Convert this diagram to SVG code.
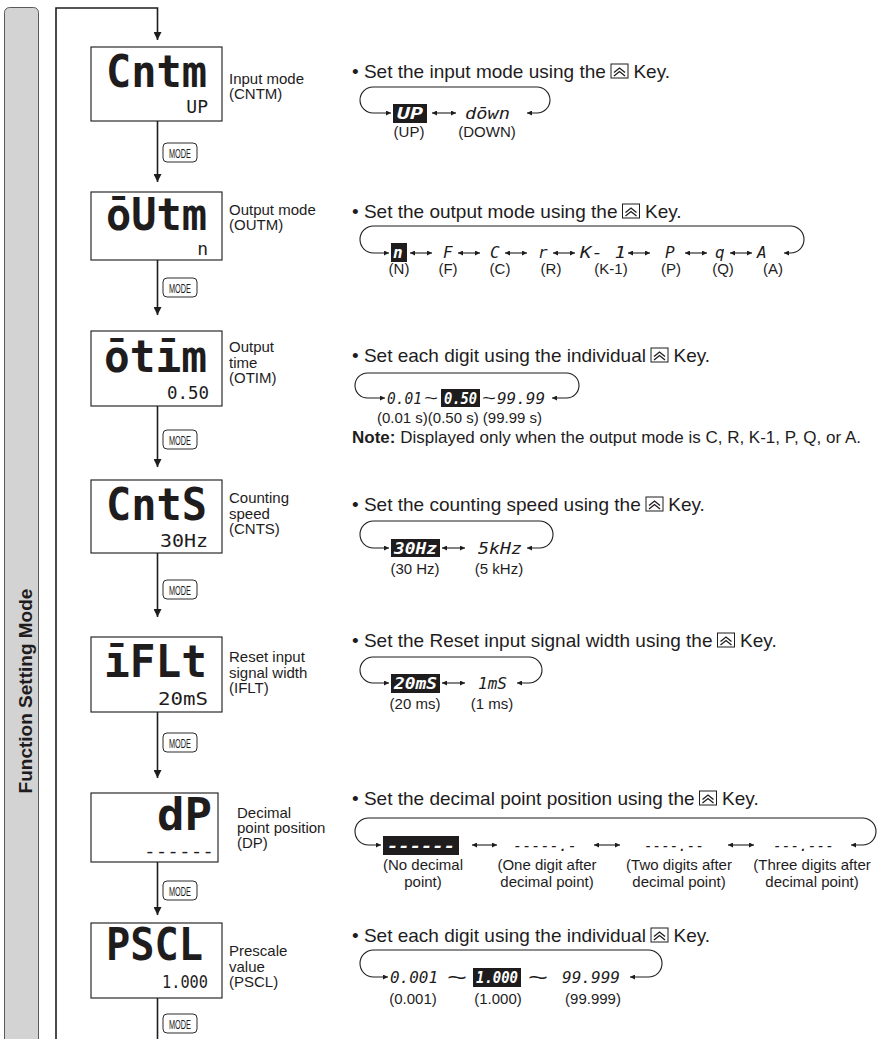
<svg xmlns="http://www.w3.org/2000/svg" xmlns:xlink="http://www.w3.org/1999/xlink" width="887" height="1039" viewBox="0 0 887 1039">
<style>
text{fill:#1e1c1d}
.hdr{font-family:"Liberation Sans",Arial,sans-serif;font-size:19px}
.lbl{font-family:"Liberation Sans",Arial,sans-serif;font-size:15px}
.sub{font-family:"Liberation Sans",Arial,sans-serif;font-size:15px;text-anchor:middle}
.note{font-family:"Liberation Sans",Arial,sans-serif;font-size:17px}
.title{font-family:"Liberation Sans",Arial,sans-serif;font-size:19px;font-weight:bold;text-anchor:middle}
.big{font-family:"DejaVu Sans Mono",monospace;font-size:44px;font-weight:bold}
.small{font-family:"DejaVu Sans Mono",monospace;font-size:18px;text-anchor:end}
.seg{font-family:"DejaVu Sans Mono",monospace;font-size:16px;font-style:italic}
.inv{fill:#fff}
.tl{font-family:"Liberation Sans",Arial,sans-serif}
.mode{font-family:"Liberation Sans",Arial,sans-serif;font-size:13px;text-anchor:middle}
.box{fill:#fff;stroke:#2a2a2a;stroke-width:1.2}
.btn{fill:#fff;stroke:#2a2a2a;stroke-width:1}
.hl{fill:#1e1c1d}
.ln{fill:none;stroke:#1e1c1d;stroke-width:1.6}
.lp{fill:none;stroke:#1e1c1d;stroke-width:1.1}
</style>
<defs>
<marker id="ah" viewBox="0 0 10 10" refX="10" refY="5" markerWidth="7" markerHeight="5" markerUnits="userSpaceOnUse" orient="auto-start-reverse"><path d="M0,0 L10,5 L0,10 z" fill="#1e1c1d"/></marker>
<marker id="av" viewBox="0 0 10 10" refX="10" refY="5" markerWidth="9" markerHeight="8" markerUnits="userSpaceOnUse" orient="auto"><path d="M0,0 L10,5 L0,10 z" fill="#1e1c1d"/></marker>
<g id="key"><rect x="0" y="0" width="17" height="14" fill="#fff" stroke="#1e1c1d" stroke-width="1"/><polyline points="3,8.5 8.5,4 14,8.5" fill="none" stroke="#1e1c1d" stroke-width="1.3"/><polyline points="3,12 8.5,7.5 14,12" fill="none" stroke="#1e1c1d" stroke-width="1.3"/></g>
<g id="modebtn"><rect x="0" y="0" width="34" height="19" rx="4" class="btn"/><text x="17" y="14.5" class="mode" textLength="22" lengthAdjust="spacingAndGlyphs">MODE</text></g>
</defs>
<rect width="887" height="1039" fill="#fff"/>

<g id="side-bar">
<rect x="4.5" y="7.5" width="34" height="1045" rx="5" fill="#d3d3d3" stroke="#5a5a5a" stroke-width="1"/>
<text class="title" transform="translate(32,691) rotate(-90)">Function Setting Mode</text>
</g>

<g id="connectors">
<path class="ln" d="M56,1039 V8 H157.5 V40" marker-end="url(#av)"/>
<path class="ln" d="M157.5,121 V182" marker-end="url(#av)"/>
<path class="ln" d="M157.5,260 V315" marker-end="url(#av)"/>
<path class="ln" d="M157.5,406 V467" marker-end="url(#av)"/>
<path class="ln" d="M157.5,553 V617" marker-end="url(#av)"/>
<path class="ln" d="M157.5,712 V778" marker-end="url(#av)"/>
<path class="ln" d="M157.5,862 V915" marker-end="url(#av)"/>
<path class="ln" d="M157.5,998 V1039"/>
<use xlink:href="#modebtn" x="163" y="143"/>
<use xlink:href="#modebtn" x="163" y="278"/>
<use xlink:href="#modebtn" x="163" y="430"/>
<use xlink:href="#modebtn" x="163" y="580"/>
<use xlink:href="#modebtn" x="163" y="733"/>
<use xlink:href="#modebtn" x="163" y="881"/>
<use xlink:href="#modebtn" x="163" y="1014"/>
</g>

<g id="node-cntm">
<rect class="box" x="91" y="47" width="131" height="74"/>
<text class="big" x="106" y="87" textLength="101" lengthAdjust="spacingAndGlyphs">Cntm</text>
<text class="small" x="208" y="113">UP</text>
<text class="lbl" x="229" y="84">Input mode</text>
<text class="lbl" x="229" y="99">(CNTM)</text>
</g>
<g id="node-outm">
<rect class="box" x="91" y="192" width="131" height="68"/>
<text class="big" x="106" y="230" textLength="101" lengthAdjust="spacingAndGlyphs">ōUtm</text>
<text class="small" x="208" y="255">n</text>
<text class="lbl" x="229" y="215">Output mode</text>
<text class="lbl" x="229" y="230">(OUTM)</text>
</g>
<g id="node-otim">
<rect class="box" x="91" y="331" width="131" height="75"/>
<text class="big" x="104" y="372" textLength="103" lengthAdjust="spacingAndGlyphs">ōtīm</text>
<text class="small" x="209" y="399" textLength="42" lengthAdjust="spacingAndGlyphs">0.50</text>
<text class="lbl" x="229" y="352">Output</text>
<text class="lbl" x="229" y="367.5">time</text>
<text class="lbl" x="229" y="383">(OTIM)</text>
</g>
<g id="node-cnts">
<rect class="box" x="91" y="480" width="131" height="73"/>
<text class="big" x="106" y="520" textLength="101" lengthAdjust="spacingAndGlyphs">CntS</text>
<text class="small" x="208" y="547" textLength="48" lengthAdjust="spacingAndGlyphs">30Hz</text>
<text class="lbl" x="229" y="503">Counting</text>
<text class="lbl" x="229" y="518.5">speed</text>
<text class="lbl" x="229" y="534">(CNTS)</text>
</g>
<g id="node-iflt">
<rect class="box" x="91" y="637" width="131" height="75"/>
<text class="big" x="104" y="677" textLength="103" lengthAdjust="spacingAndGlyphs">īFLt</text>
<text class="small" x="208" y="705" textLength="50" lengthAdjust="spacingAndGlyphs">20mS</text>
<text class="lbl" x="229" y="662">Reset input</text>
<text class="lbl" x="229" y="677.5">signal width</text>
<text class="lbl" x="229" y="693">(IFLT)</text>
</g>
<g id="node-dp">
<rect class="box" x="91" y="793" width="127" height="69"/>
<text class="big" x="157" y="830" textLength="55" lengthAdjust="spacingAndGlyphs">dP</text>
<text class="small" x="214" y="857" textLength="70" lengthAdjust="spacingAndGlyphs">------</text>
<text class="lbl" x="237" y="818">Decimal</text>
<text class="lbl" x="237" y="833">point position</text>
<text class="lbl" x="237" y="848">(DP)</text>
</g>
<g id="node-pscl">
<rect class="box" x="91" y="923" width="131" height="75"/>
<text class="big" x="106" y="960" textLength="97" lengthAdjust="spacingAndGlyphs">PSCL</text>
<text class="small" x="208" y="988" textLength="46" lengthAdjust="spacingAndGlyphs">1.000</text>
<text class="lbl" x="229" y="956">Prescale</text>
<text class="lbl" x="229" y="971.5">value</text>
<text class="lbl" x="229" y="987">(PSCL)</text>
</g>

<g id="set-cntm">
<text class="hdr" x="352" y="78">• Set the input mode using the<tspan dx="22.3"> Key.</tspan></text>
<use xlink:href="#key" x="611" y="64"/>
<path class="lp" d="M391,113 H373 A13,13 0 0 1 373,87 H537 A13,13 0 0 1 537,113 H527" marker-start="url(#ah)" marker-end="url(#ah)"/>
<rect class="hl" x="393" y="104" width="34" height="19"/>
<text class="seg inv" x="397" y="119" textLength="26" lengthAdjust="spacingAndGlyphs" font-weight="bold">UP</text>
<line class="lp" x1="432" y1="113" x2="456" y2="113" marker-start="url(#ah)" marker-end="url(#ah)"/>
<text class="seg" x="465" y="119" textLength="45" lengthAdjust="spacingAndGlyphs">dōwn</text>
<text class="sub" x="409" y="137">(UP)</text>
<text class="sub" x="487" y="137">(DOWN)</text>
</g>

<g id="set-outm">
<text class="hdr" x="352" y="218">• Set the output mode using the<tspan dx="22.3"> Key.</tspan></text>
<use xlink:href="#key" x="622.5" y="204"/>
<path class="lp" d="M389,253 H373.5 A13.5,13.5 0 0 1 373.5,226 H790.5 A13.5,13.5 0 0 1 790.5,253 H784" marker-start="url(#ah)" marker-end="url(#ah)"/>
<rect class="hl" x="391" y="243" width="16" height="19"/>
<text class="seg inv" x="393" y="258" font-weight="bold">n</text>
<line class="lp" x1="410" y1="253" x2="432" y2="253" marker-start="url(#ah)" marker-end="url(#ah)"/>
<text class="seg" x="443" y="258">F</text>
<line class="lp" x1="458" y1="253" x2="480" y2="253" marker-start="url(#ah)" marker-end="url(#ah)"/>
<text class="seg" x="490" y="258">C</text>
<line class="lp" x1="505" y1="253" x2="527" y2="253" marker-start="url(#ah)" marker-end="url(#ah)"/>
<text class="seg" x="538" y="258">r</text>
<line class="lp" x1="553" y1="253" x2="575" y2="253" marker-start="url(#ah)" marker-end="url(#ah)"/>
<text class="seg" x="580" y="258" textLength="46" lengthAdjust="spacingAndGlyphs">K- 1</text>
<line class="lp" x1="628" y1="253" x2="650" y2="253" marker-start="url(#ah)" marker-end="url(#ah)"/>
<text class="seg" x="665" y="258">P</text>
<line class="lp" x1="685" y1="253" x2="707" y2="253" marker-start="url(#ah)" marker-end="url(#ah)"/>
<text class="seg" x="715" y="258">q</text>
<line class="lp" x1="730" y1="253" x2="752" y2="253" marker-start="url(#ah)" marker-end="url(#ah)"/>
<text class="seg" x="757" y="258">A</text>
<text class="sub" x="399" y="274">(N)</text>
<text class="sub" x="448" y="274">(F)</text>
<text class="sub" x="500" y="274">(C)</text>
<text class="sub" x="551" y="274">(R)</text>
<text class="sub" x="611" y="274">(K-1)</text>
<text class="sub" x="671" y="274">(P)</text>
<text class="sub" x="723" y="274">(Q)</text>
<text class="sub" x="773" y="274">(A)</text>
</g>

<g id="set-otim">
<text class="hdr" x="352" y="362">• Set each digit using the individual<tspan dx="22.3"> Key.</tspan></text>
<use xlink:href="#key" x="651" y="348"/>
<path class="lp" d="M385,398 H367.5 A12.5,12.5 0 0 1 367.5,373 H566.5 A12.5,12.5 0 0 1 566.5,398 H552" marker-start="url(#ah)" marker-end="url(#ah)"/>
<text class="seg" x="387" y="404" textLength="35" lengthAdjust="spacingAndGlyphs">0.01</text>
<text class="tl" x="424" y="403.5" font-size="17" textLength="14" lengthAdjust="spacingAndGlyphs">~</text>
<rect class="hl" x="441" y="389" width="39" height="18"/>
<text class="seg inv" x="444" y="404" textLength="33" lengthAdjust="spacingAndGlyphs" font-weight="bold">0.50</text>
<text class="tl" x="482" y="403.5" font-size="17" textLength="14" lengthAdjust="spacingAndGlyphs">~</text>
<text class="seg" x="497" y="404" textLength="48" lengthAdjust="spacingAndGlyphs">99.99</text>
<text class="lbl" x="377" y="423" font-size="15.8">(0.01 s)(0.50 s) (99.99 s)</text>
<text class="note" x="352" y="443"><tspan font-weight="bold">Note:</tspan> Displayed only when the output mode is C, R, K-1, P, Q, or A.</text>
</g>

<g id="set-cnts">
<text class="hdr" x="352" y="511">• Set the counting speed using the<tspan dx="22.3"> Key.</tspan></text>
<use xlink:href="#key" x="646" y="497"/>
<path class="lp" d="M389,548 H373.5 A13.5,13.5 0 0 1 373.5,521 H539.5 A13.5,13.5 0 0 1 539.5,548 H527" marker-start="url(#ah)" marker-end="url(#ah)"/>
<rect class="hl" x="391" y="539" width="49" height="18"/>
<text class="seg inv" x="394" y="554" textLength="43" lengthAdjust="spacingAndGlyphs" font-weight="bold">30Hz</text>
<line class="lp" x1="442" y1="548" x2="465" y2="548" marker-start="url(#ah)" marker-end="url(#ah)"/>
<text class="seg" x="478" y="554" textLength="44" lengthAdjust="spacingAndGlyphs">5kHz</text>
<text class="sub" x="415" y="574">(30 Hz)</text>
<text class="sub" x="499" y="574">(5 kHz)</text>
</g>

<g id="set-iflt">
<text class="hdr" x="352" y="647">• Set the Reset input signal width using the<tspan dx="22.3"> Key.</tspan></text>
<use xlink:href="#key" x="717.5" y="633"/>
<path class="lp" d="M389,683 H373 A13,13 0 0 1 373,657 H529 A13,13 0 0 1 529,683 H517" marker-start="url(#ah)" marker-end="url(#ah)"/>
<rect class="hl" x="391" y="674" width="49" height="19"/>
<text class="seg inv" x="394" y="689" textLength="43" lengthAdjust="spacingAndGlyphs" font-weight="bold">20mS</text>
<line class="lp" x1="442" y1="683" x2="465" y2="683" marker-start="url(#ah)" marker-end="url(#ah)"/>
<text class="seg" x="478" y="689" textLength="29" lengthAdjust="spacingAndGlyphs">1mS</text>
<text class="sub" x="415" y="709">(20 ms)</text>
<text class="sub" x="492" y="709">(1 ms)</text>
</g>

<g id="set-dp">
<text class="hdr" x="352" y="805">• Set the decimal point position using the<tspan dx="22.3"> Key.</tspan></text>
<use xlink:href="#key" x="699.5" y="791"/>
<path class="lp" d="M381,845 H368.5 A13.5,13.5 0 0 1 368.5,818 H862.5 A13.5,13.5 0 0 1 862.5,845 H851" marker-start="url(#ah)" marker-end="url(#ah)"/>
<rect class="hl" x="383" y="836" width="76" height="19"/>
<text class="seg inv" x="387" y="851" textLength="68" lengthAdjust="spacingAndGlyphs" font-weight="bold">------</text>
<line class="lp" x1="472" y1="845" x2="497" y2="845" marker-start="url(#ah)" marker-end="url(#ah)"/>
<text class="seg" x="513" y="851" textLength="64" lengthAdjust="spacingAndGlyphs">-----.-</text>
<line class="lp" x1="594" y1="845" x2="620" y2="845" marker-start="url(#ah)" marker-end="url(#ah)"/>
<text class="seg" x="644" y="851" textLength="60" lengthAdjust="spacingAndGlyphs">----.--</text>
<line class="lp" x1="728" y1="845" x2="754" y2="845" marker-start="url(#ah)" marker-end="url(#ah)"/>
<text class="seg" x="773" y="851" textLength="61" lengthAdjust="spacingAndGlyphs">---.---</text>
<text class="sub" x="423" y="870">(No decimal</text>
<text class="sub" x="423" y="887">point)</text>
<text class="sub" x="547" y="870">(One digit after</text>
<text class="sub" x="547" y="887">decimal point)</text>
<text class="sub" x="679" y="870">(Two digits after</text>
<text class="sub" x="679" y="887">decimal point)</text>
<text class="sub" x="812" y="870">(Three digits after</text>
<text class="sub" x="812" y="887">decimal point)</text>
</g>

<g id="set-pscl">
<text class="hdr" x="352" y="942">• Set each digit using the individual<tspan dx="22.3"> Key.</tspan></text>
<use xlink:href="#key" x="651" y="928"/>
<path class="lp" d="M388,977 H373.5 A13.5,13.5 0 0 1 373.5,950 H648.5 A13.5,13.5 0 0 1 648.5,977 H630" marker-start="url(#ah)" marker-end="url(#ah)"/>
<text class="seg" x="390" y="983" textLength="48" lengthAdjust="spacingAndGlyphs">0.001</text>
<text class="tl" x="447" y="984.5" font-size="22" textLength="20" lengthAdjust="spacingAndGlyphs">~</text>
<rect class="hl" x="473" y="968" width="48" height="19"/>
<text class="seg inv" x="476" y="983" textLength="42" lengthAdjust="spacingAndGlyphs" font-weight="bold">1.000</text>
<text class="tl" x="528" y="984.5" font-size="22" textLength="20" lengthAdjust="spacingAndGlyphs">~</text>
<text class="seg" x="562" y="983" textLength="58" lengthAdjust="spacingAndGlyphs">99.999</text>
<text class="sub" x="413" y="1004">(0.001)</text>
<text class="sub" x="498" y="1004">(1.000)</text>
<text class="sub" x="593" y="1004">(99.999)</text>
</g>
</svg>
